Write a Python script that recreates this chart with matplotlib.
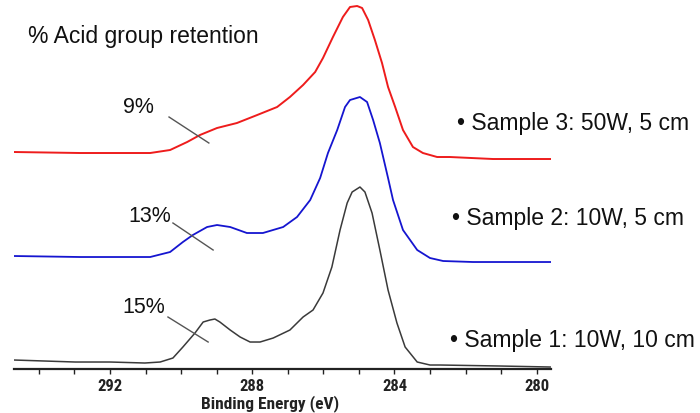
import matplotlib
matplotlib.use("Agg")
import matplotlib.pyplot as plt

# binding energy (eV) and offset intensity (arb. units)
e_s1 = [294.70, 292.98, 292.00, 291.02, 290.59, 290.23, 289.95, 289.61, 289.38, 289.19,
        289.05, 288.91, 288.62, 288.34, 288.06, 287.78, 287.41, 286.94, 286.57, 286.29,
        286.01, 285.76, 285.53, 285.33, 285.19, 284.97, 284.83, 284.63, 284.41, 284.18,
        283.93, 283.70, 283.36, 283.00, 282.72, 281.03, 279.62]
i_s1 = [9, 7, 7, 6, 7, 11, 22, 36, 47, 49,
        50, 47, 39, 32, 27, 27, 31, 39, 52, 59,
        76, 102, 139, 166, 177, 182, 177, 156, 119, 79,
        46, 22, 7, 4, 4, 3, 2]

e_s2 = [294.70, 292.84, 290.87, 290.31, 289.95, 289.67, 289.27, 288.99, 288.62, 288.15,
        287.70, 287.13, 286.74, 286.37, 286.09, 285.87, 285.61, 285.39, 285.25, 284.97,
        284.77, 284.60, 284.41, 284.18, 284.04, 283.76, 283.36, 283.00, 282.63, 281.79,
        279.62]
i_s2 = [113, 112, 112, 117, 127, 134, 142, 144, 142, 136,
        136, 142, 152, 169, 191, 216, 239, 262, 269, 272,
        267, 249, 226, 191, 169, 139, 119, 111, 108, 107,
        107]

e_s3 = [294.70, 292.84, 290.87, 290.31, 289.83, 289.47, 288.99, 288.43, 287.86, 287.30,
        286.94, 286.57, 286.23, 286.01, 285.73, 285.45, 285.25, 285.05, 284.91, 284.74,
        284.55, 284.35, 284.18, 283.98, 283.76, 283.48, 283.20, 282.80, 282.44, 281.23,
        279.62]
i_s3 = [217, 216, 216, 219, 227, 234, 241, 246, 254, 262,
        272, 284, 297, 311, 332, 352, 362, 363, 361, 349,
        329, 306, 282, 262, 239, 222, 216, 212, 212, 210,
        210]

sample_labels = ["\u2022 Sample 1: 10W, 10 cm", "\u2022 Sample 2: 10W, 5 cm",
                 "\u2022 Sample 3: 50W, 5 cm"]
retention = ["15%", "13%", "9%"]
major_ticks = [292, 288, 284, 280]

plt.rcParams['font.family'] = ['Liberation Sans', 'DejaVu Sans']
narrow = ['Roboto Condensed', 'Liberation Sans Narrow', 'DejaVu Sans']

fig = plt.figure(figsize=(7, 4.13), dpi=100)
ax = fig.add_axes([0.02, 0.1065, 0.767, 0.8935])

ax.plot(e_s1, i_s1, color='#3a3a3a', lw=1.1)
ax.plot(e_s2, i_s2, color='#1515d0', lw=1.3)
ax.plot(e_s3, i_s3, color='#ee1c1c', lw=1.4)

ax.set_xlim(294.7, 279.6)
ax.set_ylim(0, 369)

for s in ['left', 'right', 'top']:
    ax.spines[s].set_visible(False)
ax.spines['bottom'].set_linewidth(1.6)
ax.spines['bottom'].set_color('#222222')
ax.set_yticks([])
ax.set_xticks(major_ticks)
ax.set_xticks(range(280, 295), minor=True)
ax.tick_params(axis='x', which='both', direction='out', length=3.5, width=1,
               color='#222222', pad=4)
for lab in ax.get_xticklabels():
    lab.set_family(narrow)
    lab.set_stretch('condensed')
    lab.set_fontsize(12)
    lab.set_fontweight('bold')
    lab.set_color('#222222')

ax.set_xlabel("Binding Energy (eV)", family=narrow, stretch='condensed', fontsize=12.5,
              fontweight='bold', color='#222222')
ax.xaxis.set_label_coords(0.477, -0.1057)
ax.xaxis.label.set_va('baseline')

# percent annotations with leader lines
pct_xy = [(291.04, 56), (290.87, 147), (291.21, 256)]
leaders = [((290.37, 52), (289.24, 27)),
           ((290.23, 146), (289.10, 119)),
           ((290.34, 252), (289.22, 226))]
for txt, (px, py), (p0, p1) in zip(retention, pct_xy, leaders):
    ax.text(px, py, txt, fontsize=15.5, ha='center', va='baseline', color='#111111')
    ax.plot([p0[0], p1[0]], [p0[1], p1[1]], color='#555555', lw=1.0)

fig.text(0.04, 0.896, "% Acid group retention", fontsize=16.5, color='#111111',
         va='baseline')
label_pos = [(0.643, 0.160), (0.646, 0.455), (0.653, 0.685)]
for txt, (lx, ly) in zip(sample_labels, label_pos):
    fig.text(lx, ly, txt, fontsize=16.5, color='#111111', va='baseline')

fig.savefig("out.png", dpi=100)
